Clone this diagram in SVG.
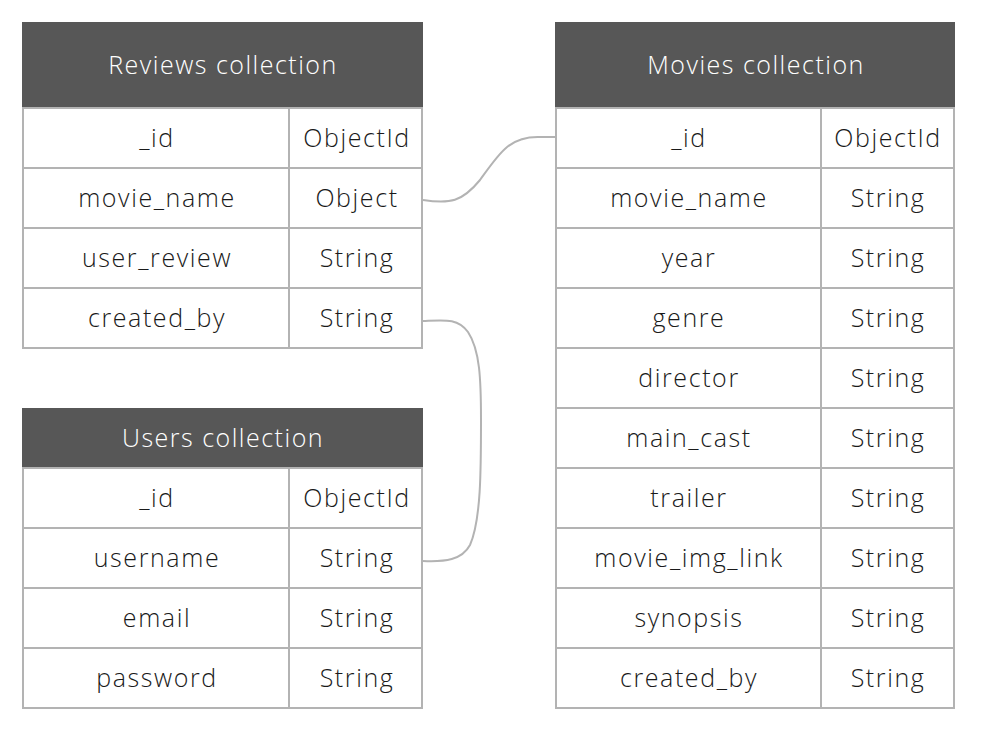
<svg xmlns="http://www.w3.org/2000/svg" width="993" height="732" viewBox="0 0 993 732">
<style>
.hd{fill:#575757;stroke:#575757;stroke-width:2}
.cell{fill:#fff;stroke:#b3b3b3;stroke-width:2}
.ht{font-family:"Open Sans",Lato,sans-serif;font-weight:300;font-size:25px;letter-spacing:1.5px;fill:#fff;text-anchor:middle}
.t{font-family:"Open Sans",Lato,sans-serif;font-weight:300;font-size:25px;letter-spacing:1.6px;fill:#1a1a1a;text-anchor:middle}
.conn{fill:none;stroke:#b3b3b3;stroke-width:2}
</style>
<rect width="993" height="732" fill="#fff"/>
<g id="reviews">
<rect class="hd" x="23" y="23" width="399" height="85"/>
<text class="ht" x="223" y="74">Reviews collection</text>
<rect class="cell" x="23" y="108" width="266" height="60"/><rect class="cell" x="289" y="108" width="133" height="60"/>
<rect class="cell" x="23" y="168" width="266" height="60"/><rect class="cell" x="289" y="168" width="133" height="60"/>
<rect class="cell" x="23" y="228" width="266" height="60"/><rect class="cell" x="289" y="228" width="133" height="60"/>
<rect class="cell" x="23" y="288" width="266" height="60"/><rect class="cell" x="289" y="288" width="133" height="60"/>
<text class="t" x="157" y="147">_id</text><text class="t" x="357" y="147">ObjectId</text>
<text class="t" x="157" y="207">movie_name</text><text class="t" x="357" y="207">Object</text>
<text class="t" x="157" y="267">user_review</text><text class="t" x="357" y="267">String</text>
<text class="t" x="157" y="327">created_by</text><text class="t" x="357" y="327">String</text>
</g>
<g id="users">
<rect class="hd" x="23" y="409" width="399" height="59"/>
<text class="ht" x="223" y="447">Users collection</text>
<rect class="cell" x="23" y="468" width="266" height="60"/><rect class="cell" x="289" y="468" width="133" height="60"/>
<rect class="cell" x="23" y="528" width="266" height="60"/><rect class="cell" x="289" y="528" width="133" height="60"/>
<rect class="cell" x="23" y="588" width="266" height="60"/><rect class="cell" x="289" y="588" width="133" height="60"/>
<rect class="cell" x="23" y="648" width="266" height="60"/><rect class="cell" x="289" y="648" width="133" height="60"/>
<text class="t" x="157" y="507">_id</text><text class="t" x="357" y="507">ObjectId</text>
<text class="t" x="157" y="567">username</text><text class="t" x="357" y="567">String</text>
<text class="t" x="157" y="627">email</text><text class="t" x="357" y="627">String</text>
<text class="t" x="157" y="687">password</text><text class="t" x="357" y="687">String</text>
</g>
<g id="movies">
<rect class="hd" x="556" y="23" width="398" height="85"/>
<text class="ht" x="756" y="74">Movies collection</text>
<rect class="cell" x="556" y="108" width="265" height="60"/><rect class="cell" x="821" y="108" width="133" height="60"/>
<rect class="cell" x="556" y="168" width="265" height="60"/><rect class="cell" x="821" y="168" width="133" height="60"/>
<rect class="cell" x="556" y="228" width="265" height="60"/><rect class="cell" x="821" y="228" width="133" height="60"/>
<rect class="cell" x="556" y="288" width="265" height="60"/><rect class="cell" x="821" y="288" width="133" height="60"/>
<rect class="cell" x="556" y="348" width="265" height="60"/><rect class="cell" x="821" y="348" width="133" height="60"/>
<rect class="cell" x="556" y="408" width="265" height="60"/><rect class="cell" x="821" y="408" width="133" height="60"/>
<rect class="cell" x="556" y="468" width="265" height="60"/><rect class="cell" x="821" y="468" width="133" height="60"/>
<rect class="cell" x="556" y="528" width="265" height="60"/><rect class="cell" x="821" y="528" width="133" height="60"/>
<rect class="cell" x="556" y="588" width="265" height="60"/><rect class="cell" x="821" y="588" width="133" height="60"/>
<rect class="cell" x="556" y="648" width="265" height="60"/><rect class="cell" x="821" y="648" width="133" height="60"/>
<text class="t" x="689" y="147">_id</text><text class="t" x="888" y="147">ObjectId</text>
<text class="t" x="689" y="207">movie_name</text><text class="t" x="888" y="207">String</text>
<text class="t" x="689" y="267">year</text><text class="t" x="888" y="267">String</text>
<text class="t" x="689" y="327">genre</text><text class="t" x="888" y="327">String</text>
<text class="t" x="689" y="387">director</text><text class="t" x="888" y="387">String</text>
<text class="t" x="689" y="447">main_cast</text><text class="t" x="888" y="447">String</text>
<text class="t" x="689" y="507">trailer</text><text class="t" x="888" y="507">String</text>
<text class="t" x="689" y="567">movie_img_link</text><text class="t" x="888" y="567">String</text>
<text class="t" x="689" y="627">synopsis</text><text class="t" x="888" y="627">String</text>
<text class="t" x="689" y="687">created_by</text><text class="t" x="888" y="687">String</text>
</g>
<g id="connectors">
<path class="conn" d="M423,200 C450,204 462,202 480,180 C500,152 510,136 540,137 L555,137"/>
<path class="conn" d="M423,321 C445,320 458,318 468,332 C480,350 481,380 481,420 C481,470 481,520 470,545 C462,560 445,562 423,561"/>
</g>
</svg>
